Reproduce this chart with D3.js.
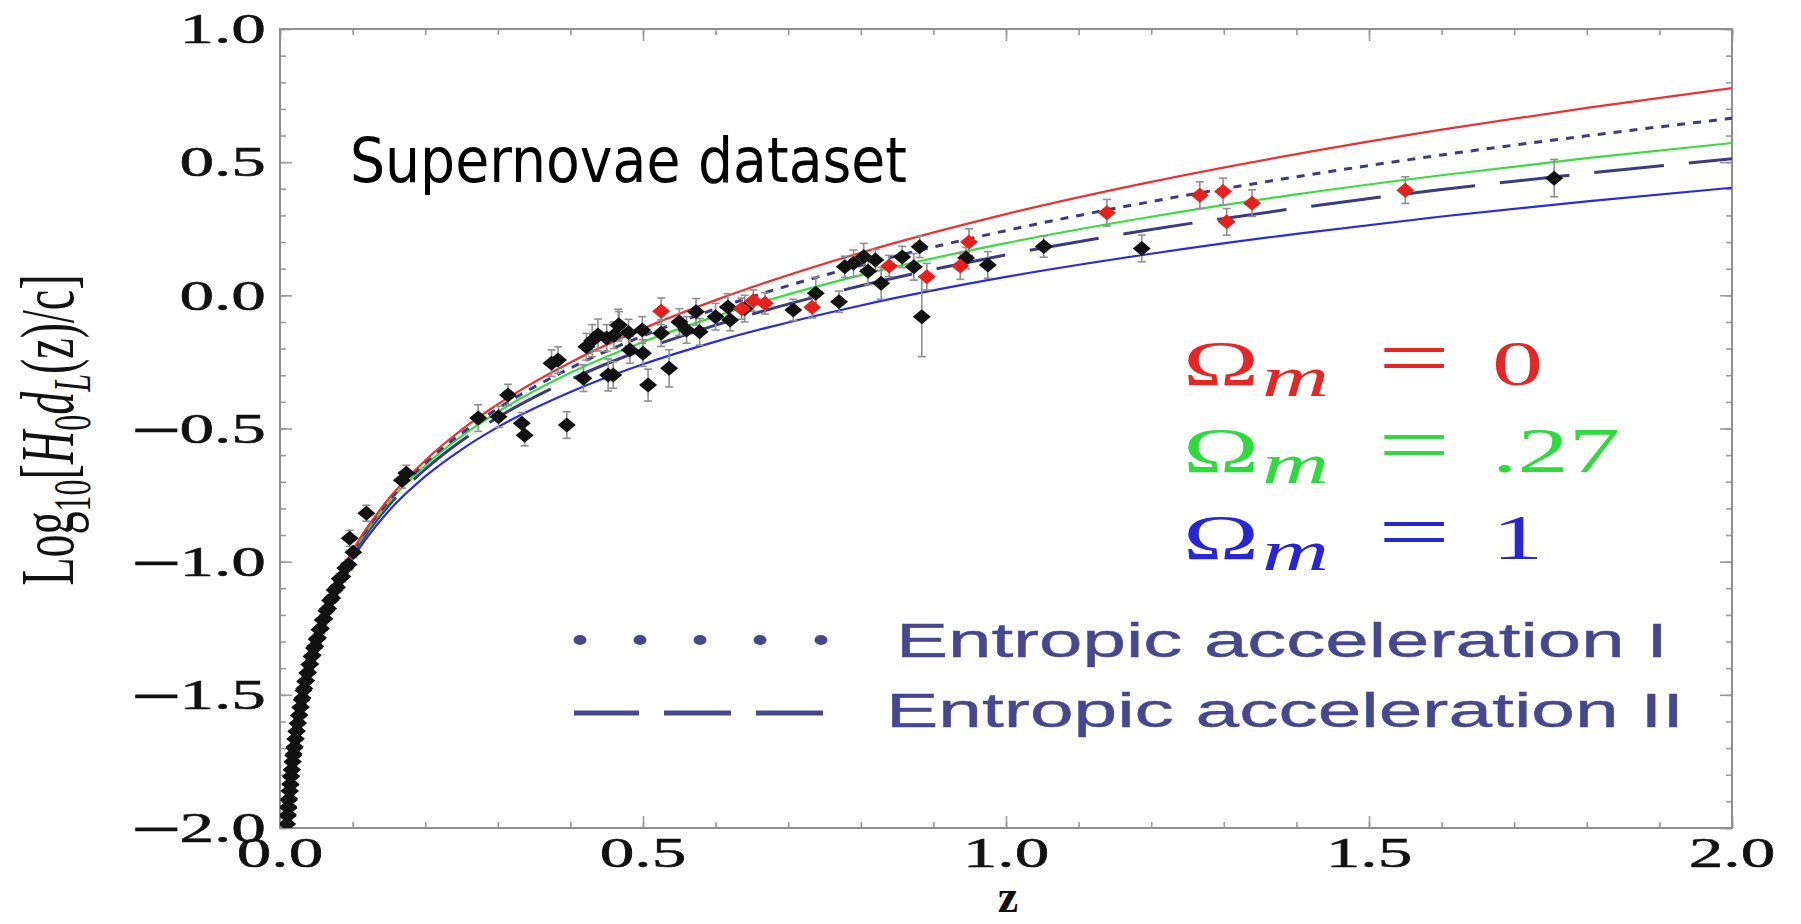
<!DOCTYPE html>
<html><head><meta charset="utf-8">
<script src="https://cdn.jsdelivr.net/npm/d3@7"></script>
<style>html,body{margin:0;padding:0;background:#fff;overflow:hidden}</style>
</head><body><svg id="c" width="1801" height="924"></svg>
<script>
// ---------------- data ----------------
const zGrid = [0.01,0.015,0.02,0.03,0.04,0.05,0.07,0.1,0.15,0.2,0.25,0.3,0.4,0.5,0.6,0.8,1.0,1.2,1.4,1.6,1.8,2.0];
const curveOm0   = [-1.996,-1.817,-1.690,-1.510,-1.381,-1.280,-1.126,-0.959,-0.763,-0.620,-0.505,-0.409,-0.252,-0.125,-0.018,0.160,0.305,0.426,0.530,0.622,0.704,0.778];
const curveOm027 = [-1.997,-1.819,-1.692,-1.513,-1.384,-1.284,-1.132,-0.968,-0.777,-0.639,-0.529,-0.438,-0.291,-0.175,-0.079,0.076,0.196,0.295,0.379,0.451,0.515,0.572];
const curveOm1   = [-1.999,-1.822,-1.697,-1.520,-1.394,-1.296,-1.148,-0.990,-0.809,-0.680,-0.579,-0.495,-0.363,-0.259,-0.174,-0.038,0.069,0.156,0.231,0.296,0.353,0.404];
const curveEntI  = [-1.996,-1.818,-1.691,-1.512,-1.383,-1.282,-1.129,-0.964,-0.771,-0.630,-0.518,-0.425,-0.273,-0.152,-0.051,0.113,0.243,0.352,0.445,0.527,0.599,0.665];
const curveEntII = [-1.997,-1.820,-1.694,-1.515,-1.388,-1.288,-1.137,-0.975,-0.788,-0.653,-0.546,-0.458,-0.316,-0.204,-0.112,0.036,0.152,0.247,0.327,0.397,0.458,0.513];

// supernovae: [z, log10(H0 dL/c), error]
const snBlack = [
 [0.0100,-1.985,0.02],[0.0105,-1.955,0.02],[0.0110,-1.950,0.02],[0.0114,-1.920,0.02],[0.0118,-1.925,0.02],
 [0.0122,-1.895,0.02],[0.0127,-1.890,0.02],[0.0132,-1.860,0.02],[0.0136,-1.862,0.02],[0.0141,-1.835,0.02],
 [0.0146,-1.838,0.02],[0.0150,-1.808,0.02],[0.0155,-1.805,0.02],[0.0160,-1.782,0.02],[0.0165,-1.780,0.02],
 [0.0171,-1.752,0.02],[0.0177,-1.750,0.02],[0.0183,-1.728,0.02],[0.0190,-1.722,0.02],[0.0196,-1.700,0.02],
 [0.0203,-1.695,0.02],[0.0210,-1.666,0.02],[0.0218,-1.665,0.02],[0.0225,-1.638,0.02],[0.0233,-1.636,0.02],
 [0.0241,-1.608,0.02],[0.0250,-1.606,0.02],[0.0259,-1.578,0.02],[0.0268,-1.576,0.02],[0.0278,-1.548,0.02],
 [0.0288,-1.546,0.02],[0.0298,-1.518,0.02],[0.0310,-1.512,0.02],[0.0322,-1.484,0.02],[0.0334,-1.476,0.02],
 [0.0347,-1.450,0.02],[0.0360,-1.446,0.02],[0.0374,-1.418,0.02],[0.0388,-1.416,0.02],[0.0403,-1.386,0.02],
 [0.0418,-1.384,0.02],[0.0434,-1.356,0.02],[0.0450,-1.351,0.02],[0.0467,-1.324,0.02],[0.0485,-1.318,0.02],
 [0.0504,-1.291,0.02],[0.0523,-1.286,0.02],[0.0543,-1.256,0.02],[0.0565,-1.251,0.02],[0.0588,-1.219,0.02],
 [0.0612,-1.214,0.02],[0.0637,-1.184,0.02],[0.0663,-1.176,0.02],[0.0690,-1.146,0.02],[0.0720,-1.136,0.02],
 [0.0752,-1.106,0.02],[0.0786,-1.096,0.02],[0.0822,-1.064,0.02],[0.0860,-1.056,0.02],[0.0900,-1.024,0.02],
 [0.0945,-1.011,0.02],[0.0960,-0.912,0.03],[0.1010,-0.965,0.02],[0.119,-0.818,0.03],[0.168,-0.694,0.03],
 [0.174,-0.668,0.03],[0.273,-0.461,0.05],[0.301,-0.456,0.04],[0.314,-0.374,0.04],[0.333,-0.480,0.04],
 [0.337,-0.525,0.04],[0.374,-0.255,0.05],[0.383,-0.243,0.05],[0.395,-0.487,0.05],[0.418,-0.311,0.05],
 [0.422,-0.193,0.05],[0.430,-0.170,0.06],[0.438,-0.149,0.06],[0.450,-0.160,0.05],[0.452,-0.299,0.06],
 [0.459,-0.299,0.05],[0.460,-0.150,0.05],[0.466,-0.112,0.06],[0.467,-0.111,0.05],[0.480,-0.140,0.05],
 [0.482,-0.205,0.05],[0.499,-0.130,0.05],[0.500,-0.217,0.05],[0.507,-0.337,0.06],[0.525,-0.142,0.05],
 [0.536,-0.274,0.07],[0.550,-0.100,0.05],[0.560,-0.130,0.05],[0.573,-0.062,0.05],[0.578,-0.137,0.05],
 [0.600,-0.080,0.05],[0.617,-0.044,0.05],[0.620,-0.093,0.04],[0.640,-0.050,0.05],[0.707,-0.055,0.04],
 [0.738,0.008,0.06],[0.770,-0.024,0.04],[0.778,0.107,0.04],[0.790,0.120,0.05],[0.804,0.145,0.05],
 [0.810,0.090,0.05],[0.820,0.133,0.04],[0.828,0.045,0.06],[0.857,0.144,0.04],[0.873,0.107,0.05],
 [0.881,0.182,0.04],[0.884,-0.080,0.15],[0.945,0.140,0.04],[0.975,0.114,0.05],[1.052,0.183,0.04],
 [1.187,0.176,0.05],[1.755,0.440,0.07]
];
const snRed = [
 [0.525,-0.060,0.05],[0.636,-0.050,0.04],[0.652,-0.020,0.04],[0.668,-0.030,0.04],[0.733,-0.045,0.04],
 [0.839,0.110,0.04],[0.891,0.070,0.05],[0.937,0.110,0.05],[0.949,0.200,0.05],[1.139,0.310,0.05],
 [1.267,0.376,0.05],[1.299,0.390,0.05],[1.304,0.276,0.05],[1.339,0.346,0.05],[1.550,0.395,0.05]
];

const xTicks = [0, 0.5, 1.0, 1.5, 2.0];
const xTickLabels = ["0.0","0.5","1.0","1.5","2.0"];
const yTicks = [1.0, 0.5, 0.0, -0.5, -1.0, -1.5, -2.0];
const yTickLabels = ["1.0","0.5","0.0","\u22120.5","\u22121.0","\u22121.5","\u22122.0"];

const legendOmega = [
  {val:"0",   color:"#e82525"},
  {val:".27", color:"#2bdc3a"},
  {val:"1",   color:"#2626d6"}
];
const legendEntropic = ["Entropic acceleration I","Entropic acceleration II"];

// ---------------- drawing ----------------
const svg = d3.select("#c");
const x = d3.scaleLinear().domain([0,2]).range([280,1732]);
const y = d3.scaleLinear().domain([-2,1]).range([828,29]);

svg.append("defs").append("clipPath").attr("id","plotclip")
  .append("rect").attr("x",280).attr("y",29).attr("width",1452).attr("height",799);

const frameCol = "#8e8e8e";
const minorX = d3.range(0,2.0001,0.1).map(d=>+d.toFixed(2));
const minorY = d3.range(-2,1.0001,0.1).map(d=>+d.toFixed(2));
function styleAxis(g){ g.select(".domain").remove(); g.selectAll("line").attr("stroke","#9a9a9a").attr("stroke-width",1.6); g.selectAll("text").remove(); }
svg.append("g").attr("transform","translate(0,828)").call(d3.axisBottom(x).tickValues(minorX).tickSizeInner(-6).tickSizeOuter(0)).call(styleAxis);
svg.append("g").attr("transform","translate(0,828)").call(d3.axisBottom(x).tickValues(xTicks).tickSizeInner(-12).tickSizeOuter(0)).call(styleAxis);
svg.append("g").attr("transform","translate(0,29)").call(d3.axisTop(x).tickValues(minorX).tickSizeInner(-6).tickSizeOuter(0)).call(styleAxis);
svg.append("g").attr("transform","translate(0,29)").call(d3.axisTop(x).tickValues(xTicks).tickSizeInner(-12).tickSizeOuter(0)).call(styleAxis);
svg.append("g").attr("transform","translate(280,0)").call(d3.axisLeft(y).tickValues(minorY).tickSizeInner(-6).tickSizeOuter(0)).call(styleAxis);
svg.append("g").attr("transform","translate(280,0)").call(d3.axisLeft(y).tickValues(yTicks).tickSizeInner(-12).tickSizeOuter(0)).call(styleAxis);
svg.append("g").attr("transform","translate(1732,0)").call(d3.axisRight(y).tickValues(minorY).tickSizeInner(-6).tickSizeOuter(0)).call(styleAxis);
svg.append("g").attr("transform","translate(1732,0)").call(d3.axisRight(y).tickValues(yTicks).tickSizeInner(-12).tickSizeOuter(0)).call(styleAxis);

svg.append("rect").attr("x",280).attr("y",29).attr("width",1452).attr("height",799)
  .attr("fill","none").attr("stroke",frameCol).attr("stroke-width",2);

// tick labels (horizontally stretched serif)
const serif = "'Liberation Serif','Times New Roman',serif";
const SX = 1.65;
yTicks.forEach((v,i)=>{
  const lab = yTickLabels[i];
  const t = svg.append("text")
    .attr("transform",`translate(266,${y(v)}) scale(${SX},1)`)
    .attr("text-anchor","end").attr("dy","0.34em")
    .attr("font-family",serif).attr("font-size",42)
    .attr("fill","#111").attr("stroke","#111").attr("stroke-width",0.5);
  if (lab[0]==="\u2212"){
    t.append("tspan").attr("font-family","'DejaVu Serif',serif").attr("font-size",40).text("\u2212");
    t.append("tspan").attr("dx",-3).text(lab.slice(1));
  } else t.text(lab);
});
xTicks.forEach((v,i)=>{
  svg.append("text")
    .attr("transform",`translate(${x(v)},867) scale(${SX},1)`)
    .attr("text-anchor","middle")
    .attr("font-family",serif).attr("font-size",42)
    .attr("fill","#111").attr("stroke","#111").attr("stroke-width",0.5)
    .text(xTickLabels[i]);
});

// axis titles
svg.append("text").attr("x",1008).attr("y",912).attr("text-anchor","middle")
  .attr("font-family",serif).attr("font-weight","bold").attr("font-size",46).attr("fill","#111").text("z");

const yl = svg.append("text")
  .attr("transform","translate(73,430) scale(1.65,1) rotate(-90)")
  .attr("text-anchor","middle").attr("font-family",serif).attr("font-size",46).attr("fill","#111");
yl.append("tspan").text("Log");
yl.append("tspan").attr("font-size",32).attr("dy",10).text("10");
yl.append("tspan").attr("dy",-10).text("[");
yl.append("tspan").attr("font-style","italic").text("H");
yl.append("tspan").attr("font-size",32).attr("dy",10).text("0");
yl.append("tspan").attr("dy",-10).attr("font-style","italic").text("d");
yl.append("tspan").attr("font-size",32).attr("dy",10).attr("font-style","italic").text("L");
yl.append("tspan").attr("dy",-10).text("(z)/c]");

// curves
const plot = svg.append("g").attr("clip-path","url(#plotclip)");
const line = d3.line().x(d=>x(d[0])).y(d=>y(d[1])).curve(d3.curveMonotoneX);
function curve(vals,color,width,dash){
  const p = plot.append("path").datum(zGrid.map((z,i)=>[z,vals[i]]))
    .attr("d",line).attr("fill","none").attr("stroke",color).attr("stroke-width",width);
  if(dash) p.attr("stroke-dasharray",dash);
}
curve(curveOm1,"#2a2ae0",2.2);
curve(curveEntII,"#3b3b82",3,"70,25");
curve(curveOm027,"#33e03a",2.2);
curve(curveEntI,"#3b3b82",3,"8,8");
curve(curveOm0,"#f03030",2.2);

// data (on top)
const allPts = snBlack.map(d=>({d,c:"#111"})).concat(snRed.map(d=>({d,c:"#e8201c"})));
const eb = plot.append("g").attr("stroke","#8f8f8f").attr("stroke-width",1.6).attr("fill","none");
allPts.forEach(p=>{
  const [z,v,e]=p.d, px=x(z);
  eb.append("line").attr("x1",px).attr("x2",px).attr("y1",y(v-e)).attr("y2",y(v+e));
  eb.append("line").attr("x1",px-4).attr("x2",px+4).attr("y1",y(v-e)).attr("y2",y(v-e));
  eb.append("line").attr("x1",px-4).attr("x2",px+4).attr("y1",y(v+e)).attr("y2",y(v+e));
});
const diamond = "M0,-7.5L9,0L0,7.5L-9,0Z";
plot.append("g").selectAll("path").data(allPts).join("path")
  .attr("d",diamond).attr("transform",p=>`translate(${x(p.d[0])},${y(p.d[1])})`)
  .attr("fill",p=>p.c);

// annotation
svg.append("text").attr("x",350).attr("y",182)
  .attr("font-family","'DejaVu Sans',Verdana,sans-serif").attr("font-size",62)
  .attr("textLength",557).attr("lengthAdjust","spacingAndGlyphs").attr("fill","#000")
  .text("Supernovae dataset");

// omega legend
const omBase = [385,472,559];
legendOmega.forEach((o,i)=>{
  const t = svg.append("text").attr("transform",`translate(0,${omBase[i]}) scale(1.6,1)`)
    .attr("font-family",serif).attr("font-size",64).attr("fill",o.color);
  t.append("tspan").attr("x",1183/1.6).text("\u03A9");
  t.append("tspan").attr("x",1262/1.6).attr("dy",11).attr("font-size",58).attr("font-style","italic").text("m");
  t.append("tspan").attr("x",1378/1.6).attr("dy",-11).attr("font-size",80).text("=");
  t.append("tspan").attr("x",1492/1.6).attr("font-size",64).text(o.val);
});

// entropic legend
const entCol = "#474790";
const dotsX = [580,640,700,760,821];
svg.append("g").selectAll("ellipse").data(dotsX).join("ellipse")
  .attr("cx",d=>d).attr("cy",640).attr("rx",6.5).attr("ry",5).attr("fill",entCol);
const dashSeg = [[574,639],[664,731],[756,823]];
svg.append("g").selectAll("line").data(dashSeg).join("line")
  .attr("x1",d=>d[0]).attr("x2",d=>d[1]).attr("y1",713).attr("y2",713)
  .attr("stroke",entCol).attr("stroke-width",5);
const entX=[896,886], entY=[657,727], entL=[772,798];
legendEntropic.forEach((s,i)=>{
  svg.append("text").attr("x",entX[i]).attr("y",entY[i])
    .attr("font-family","'Liberation Sans',Arial,sans-serif").attr("font-size",48)
    .attr("textLength",entL[i]).attr("lengthAdjust","spacingAndGlyphs")
    .attr("fill",entCol).attr("stroke",entCol).attr("stroke-width",0.4).text(s);
});
</script></body></html>
